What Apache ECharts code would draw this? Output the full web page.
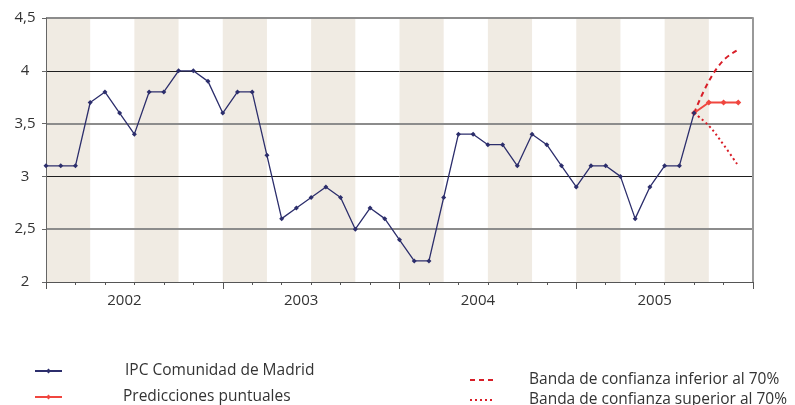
<!DOCTYPE html>
<html>
<head>
<meta charset="utf-8">
<script src="https://cdn.jsdelivr.net/npm/echarts@6/dist/echarts.min.js"></script>
<style>
  html, body { margin: 0; padding: 0; background: #fff; }
  #chart { width: 795px; height: 405px; }
</style>
</head>
<body>
<div id="chart"></div>
<script>
  // años del eje x, una categoria por mes (+1 para cerrar el eje)
  var years = [2002, 2003, 2004, 2005];
  var yTicks = [2, 2.5, 3, 3.5, 4, 4.5];

  // IPC Comunidad de Madrid, ene 2002 - sep 2005
  var ipc = [3.1, 3.1, 3.1, 3.7, 3.8, 3.6, 3.4, 3.8, 3.8, 4.0, 4.0, 3.9,
             3.6, 3.8, 3.8, 3.2, 2.6, 2.7, 2.8, 2.9, 2.8, 2.5, 2.7, 2.6,
             2.4, 2.2, 2.2, 2.8, 3.4, 3.4, 3.3, 3.3, 3.1, 3.4, 3.3, 3.1,
             2.9, 3.1, 3.1, 3.0, 2.6, 2.9, 3.1, 3.1, 3.6];
  // predicciones desde el ultimo dato observado
  var prediccion = [3.6, 3.7, 3.7, 3.7];
  var bandaInferior = [3.6, 3.9, 4.1, 4.2];
  var bandaSuperior = [3.6, 3.48, 3.3, 3.1];

  var names = ['IPC Comunidad de Madrid', 'Predicciones puntuales',
               'Banda de confianza inferior al 70%', 'Banda de confianza superior al 70%'];

  var months = [];
  years.forEach(function (y) {
    for (var m = 1; m <= 12; m++) months.push(y + '-' + (m < 10 ? '0' + m : m));
  });
  months.push((years[years.length - 1] + 1) + '-01');

  function pad(arr, start) {
    var out = [];
    for (var i = 0; i < months.length; i++) {
      var k = i - start;
      out.push(k >= 0 && k < arr.length ? arr[k] : '-');
    }
    return out;
  }
  var predStart = ipc.length - 1;

  // trimestres sombreados: 1er y 3er trimestre de cada año
  var bands = [];
  years.forEach(function (y, yi) {
    [0, 6].forEach(function (q) {
      bands.push([{ xAxis: yi * 12 + q }, { xAxis: yi * 12 + q + 3 }]);
    });
  });

  var font = '"Open Sans", "Noto Sans", sans-serif';
  var txt = '#333';
  var noSymbol = { opacity: 0 };

  var chart = echarts.init(document.getElementById('chart'));
  chart.setOption({
    animation: false,
    backgroundColor: '#fff',
    grid: { left: 46, right: 42, top: 18, bottom: 123, containLabel: false },
    legend: [
      { data: [names[0]], left: 29, top: 358, itemWidth: 27, itemHeight: 6,
        textStyle: { fontFamily: font, fontSize: 15.5, color: txt, padding: [0, 0, 0, 58] } },
      { data: [names[1]], left: 29, top: 384, itemWidth: 27, itemHeight: 6,
        textStyle: { fontFamily: font, fontSize: 15.5, color: txt, padding: [0, 0, 0, 56] } },
      { data: [{ name: names[2], itemStyle: noSymbol }], left: 464, top: 367, itemWidth: 25, itemHeight: 6,
        textStyle: { fontFamily: font, fontSize: 15.5, color: txt, padding: [0, 0, 0, 29] } },
      { data: [{ name: names[3], itemStyle: noSymbol }], left: 464, top: 387, itemWidth: 25, itemHeight: 6,
        textStyle: { fontFamily: font, fontSize: 15.5, color: txt, padding: [0, 0, 0, 29] } }
    ],
    xAxis: [{
      type: 'category',
      data: months,
      boundaryGap: false,
      position: 'bottom',
      axisLine: { lineStyle: { color: '#555', width: 1 } },
      axisTick: { length: 3, lineStyle: { color: '#555' },
        interval: function (i) { return i % 2 === 0; } },
      axisLabel: { show: false },
      splitLine: { show: false }
    }, {
      type: 'category',
      data: months,
      boundaryGap: false,
      position: 'bottom',
      axisLine: { show: false },
      axisTick: { length: 7, lineStyle: { color: '#555' },
        interval: function (i) { return i % 12 === 0; } },
      axisLabel: {
        interval: function (i) { return i % 12 === 6; },
        formatter: function (v) { return v.slice(0, 4); },
        margin: 11,
        padding: [0, 20, 0, 0],
        fontFamily: font, fontSize: 15, color: txt
      },
      splitLine: { show: false }
    }],
    yAxis: [{
      // lineas grises en los medios
      type: 'value',
      min: yTicks[0],
      max: yTicks[yTicks.length - 1],
      interval: 0.5,
      axisLine: { show: true, lineStyle: { color: '#666' } },
      axisTick: { show: true, length: 4, lineStyle: { color: '#666' } },
      axisLabel: {
        formatter: function (v) { return String(v).replace('.', ','); },
        align: 'center', margin: 21,
        fontFamily: font, fontSize: 15, color: txt
      },
      splitLine: { lineStyle: { color: ['rgba(0,0,0,0)', '#8c8c8c'], width: 2 } }
    }, {
      // lineas negras en los enteros + borde derecho
      type: 'value',
      position: 'right',
      min: yTicks[0],
      max: yTicks[yTicks.length - 1],
      interval: 1,
      axisLine: { show: true, lineStyle: { color: '#999', width: 2 } },
      axisTick: { show: false },
      axisLabel: { show: false },
      splitLine: { lineStyle: { color: ['#1e1e1e', '#1e1e1e', '#1e1e1e', 'rgba(0,0,0,0)'], width: 1 } }
    }],
    series: [{
      name: 'sombreado',
      type: 'line',
      z: -1,
      silent: true,
      data: pad(ipc, 0),
      showSymbol: false,
      lineStyle: { opacity: 0 },
      markArea: { silent: true, z: -10, itemStyle: { color: '#f0ebe3' }, data: bands }
    }, {
      name: names[0],
      type: 'line',
      data: pad(ipc, 0),
      symbol: 'diamond',
      symbolSize: 5,
      color: '#2c2e6c',
      lineStyle: { width: 1.3, color: '#2c2e6c' },
      z: 4
    }, {
      name: names[1],
      type: 'line',
      data: pad(prediccion, predStart),
      symbol: 'diamond',
      symbolSize: 6,
      color: '#f0463f',
      lineStyle: { width: 2, color: '#f0463f' },
      z: 3
    }, {
      name: names[2],
      type: 'line',
      data: pad(bandaInferior, predStart),
      smooth: 0.4,
      showSymbol: false,
      symbol: 'none',
      color: '#d81e28',
      lineStyle: { width: 2, type: [5, 4], color: '#d81e28' }
    }, {
      name: names[3],
      type: 'line',
      data: pad(bandaSuperior, predStart),
      smooth: 0.4,
      showSymbol: false,
      symbol: 'none',
      color: '#d81e28',
      lineStyle: { width: 2, type: [2, 3], color: '#d81e28' }
    }]
  });
</script>
</body>
</html>
